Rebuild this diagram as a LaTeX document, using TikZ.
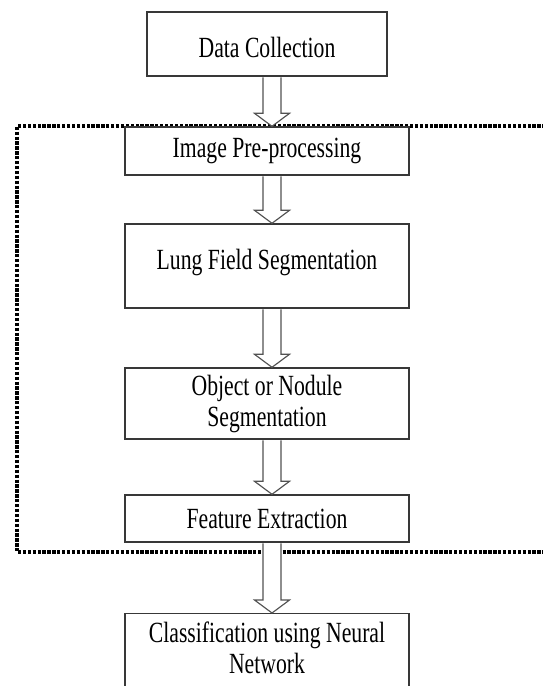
\documentclass[tikz,border=0pt]{standalone}
\usepackage{fontspec}
\usepackage{graphicx}
\setmainfont{Liberation Serif}
\usetikzlibrary{calc}
\newcommand\talltext[1]{\scalebox{1}[1.35]{\fontsize{21.7}{23.2}\selectfont\begin{tabular}[t]{@{}c@{}}#1\end{tabular}}}
\tikzset{
  stagebox/.style={draw=black!78, line width=1.4pt, inner sep=0pt},
  stagetext/.style={inner sep=0pt, anchor=base},
  blockarr/.style={draw=black!68, line width=1.15pt, line join=miter},
  frameline/.style={line width=3.3pt, dash pattern=on 3.3pt off 1.6pt, black},
}
\newcommand\hollowarrow[2]{%
  \fill[white] let \p1=($(#1.south)+(5pt,0)$), \p2=(#2.north) in
    (\x1-9pt,\y1-0.7pt) -- (\x1-9pt,\y2+13pt) -- (\x1-17.5pt,\y2+13pt) -- (\x1,\y2)
    -- (\x1+17.5pt,\y2+13pt) -- (\x1+9pt,\y2+13pt) -- (\x1+9pt,\y1-0.7pt) -- cycle;
  \draw[blockarr] let \p1=($(#1.south)+(5pt,0)$), \p2=(#2.north) in
    (\x1-9pt,\y1-0.7pt) -- (\x1-9pt,\y2+13pt) -- (\x1-17.5pt,\y2+13pt) -- (\x1,\y2)
    -- (\x1+17.5pt,\y2+13pt) -- (\x1+9pt,\y2+13pt) -- (\x1+9pt,\y1-0.7pt);}
\begin{document}
\begin{tikzpicture}[x=1pt,y=-1pt]
\useasboundingbox (0,0) rectangle (542,686);
\fill[white] (0,0) rectangle (542,686);
% dotted frame (open to the right, cut by the page edge)
\draw[frameline] (570,126) -- (17,126) -- (17,552) -- (570,552);
% stage boxes
\node[stagebox, minimum width=240pt, minimum height=64pt] (dc) at (267,44) {};
\node[stagebox, minimum width=284pt, minimum height=48pt] (ipp) at (267,151) {};
\node[stagebox, minimum width=284pt, minimum height=84pt] (lfs) at (267,266) {};
\node[stagebox, minimum width=284pt, minimum height=71pt] (ons) at (267,403.5) {};
\node[stagebox, minimum width=284pt, minimum height=47pt] (fe) at (267,518.5) {};
\node[stagebox, minimum width=284pt, minimum height=90pt, anchor=north] (cls) at (267,613) {};
% stage texts
\node[stagetext] (dct) at (267,57) {\talltext{Data Collection}};
\node[stagetext] (ippt) at (267,157) {\talltext{Image Pre-processing}};
\node[stagetext] (lfst) at (267,269) {\talltext{Lung Field Segmentation}};
\node[stagetext] (onst) at (267,395) {\talltext{Object or Nodule\\Segmentation}};
\node[stagetext] (fet) at (267,528) {\talltext{Feature Extraction}};
\node[stagetext] (clst) at (267,642) {\talltext{Classification using Neural\\Network}};
% hollow block arrows
\hollowarrow{dc}{ipp}
\hollowarrow{ipp}{lfs}
\hollowarrow{lfs}{ons}
\hollowarrow{ons}{fe}
\hollowarrow{fe}{cls}
\end{tikzpicture}
\end{document}
